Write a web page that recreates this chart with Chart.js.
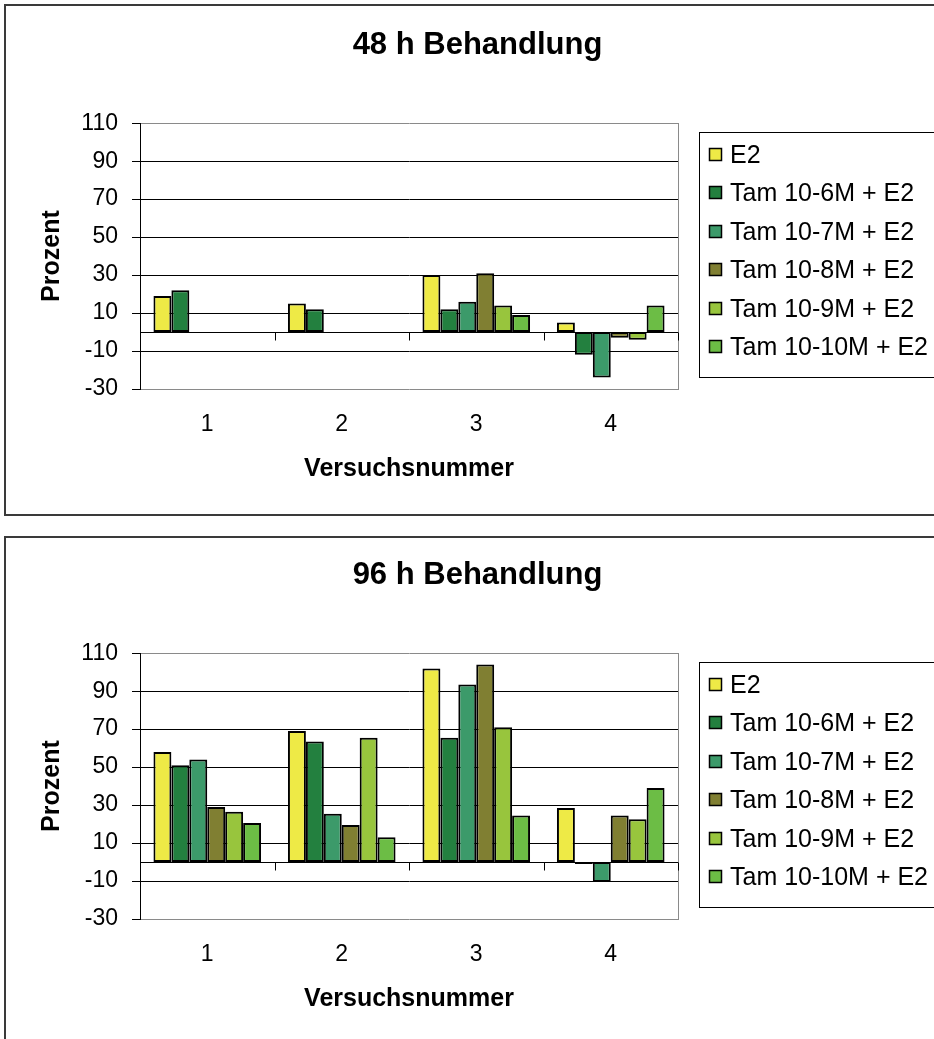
<!DOCTYPE html>
<html lang="de">
<head>
<meta charset="utf-8">
<title>Behandlung 48 h / 96 h</title>
<script src="https://cdn.jsdelivr.net/npm/chart.js@4/dist/chart.umd.min.js"></script>
<style>
  html, body { margin: 0; padding: 0; background: #fff; }
  body { width: 934px; height: 1039px; overflow: hidden; position: relative; }
  canvas { position: absolute; left: 0; }
  #c48 { top: 0; }
  #c96 { top: 530px; }
</style>
</head>
<body>
<canvas id="c48" width="955" height="530"></canvas>
<canvas id="c96" width="955" height="530"></canvas>
<script>
// Versuchsnummern (x categories) and series names
const categories = ['1', '2', '3', '4'];
const seriesNames = ['E2', 'Tam 10-6M + E2', 'Tam 10-7M + E2', 'Tam 10-8M + E2', 'Tam 10-9M + E2', 'Tam 10-10M + E2'];
const seriesColors = ['#EEEA46', '#23803F', '#3C9A6A', '#807F32', '#98C53D', '#6CBD45'];

// y-axis tick values (Prozent)
const yTicks = [-30, -10, 10, 30, 50, 70, 90, 110];

// 48 h Behandlung
const e2_48    = [19, 15, 30, 5];
const tam6_48  = [22, 12, 12, -12];
const tam7_48  = [null, null, 16, -24];
const tam8_48  = [null, null, 31, -3];
const tam9_48  = [null, null, 14, -4];
const tam10_48 = [null, null, 9, 14];

// 96 h Behandlung
const e2_96    = [58, 69, 102, 28.5];
const tam6_96  = [51, 63.5, 65.5, -1];
const tam7_96  = [54, 25.5, 93.5, -10.5];
const tam8_96  = [29, 19.5, 104, 24.5];
const tam9_96  = [26.5, 65.5, 71, 22.5];
const tam10_96 = [20.5, 13, 24.5, 39];

const FONT = "'Liberation Sans', Arial, sans-serif";
const CANVAS_W = 955, CANVAS_H = 530;
const AREA = { left: 140, right: 678, top: 123, bottom: 389 };
const TITLE_SIZE = 31;

// Outer frame, zero line with category tick marks, and boxed legend
const decorations = {
  id: 'decorations',
  beforeDraw(chart, args, opts) {
    const ctx = chart.ctx;
    ctx.save();
    ctx.fillStyle = '#fff';
    ctx.fillRect(0, 0, chart.width, chart.height);
    ctx.strokeStyle = '#3a3a3a';
    ctx.lineWidth = 2;
    ctx.strokeRect(5, opts.frameTop, chart.width - 8, opts.frameBottom - opts.frameTop);
    ctx.restore();
  },
  afterDatasetsDraw(chart) {
    const ctx = chart.ctx;
    const x = chart.scales.x, y = chart.scales.y;
    const y0 = Math.round(y.getPixelForValue(0)) + 0.5;
    ctx.save();
    ctx.strokeStyle = '#000';
    ctx.lineWidth = 1;
    ctx.beginPath();
    ctx.moveTo(chart.chartArea.left, y0);
    ctx.lineTo(chart.chartArea.right, y0);
    const n = x.ticks.length;
    const half = (x.getPixelForTick(1) - x.getPixelForTick(0)) / 2;
    for (let i = 0; i <= n; i++) {
      const px = Math.round(i < n ? x.getPixelForTick(i) - half : x.getPixelForTick(n - 1) + half) + 0.5;
      ctx.moveTo(px, y0);
      ctx.lineTo(px, y0 + 8);
    }
    ctx.stroke();
    ctx.restore();
  },
  afterDraw(chart) {
    const ctx = chart.ctx;
    const lx = 699, ly = 132, lw = 300, lh = 245;
    ctx.save();
    ctx.strokeStyle = '#000';
    ctx.lineWidth = 1;
    ctx.strokeRect(lx + 0.5, ly + 0.5, lw, lh);
    ctx.font = '25px ' + FONT;
    ctx.textBaseline = 'middle';
    ctx.textAlign = 'left';
    chart.data.datasets.forEach((ds, i) => {
      const cy = Math.round(ly + 23 + i * 38.4);
      ctx.fillStyle = ds.backgroundColor;
      ctx.fillRect(709.5, cy - 6.5, 12, 12);
      ctx.strokeStyle = '#000';
      ctx.lineWidth = 1.5;
      ctx.strokeRect(709.5, cy - 6.5, 12, 12);
      ctx.fillStyle = '#000';
      ctx.fillText(ds.label, 730, cy + 1);
    });
    ctx.restore();
  }
};

function makeChart(canvasId, title, seriesValues, frameTop, frameBottom) {
  const datasets = seriesValues.map((vals, i) => ({
    label: seriesNames[i],
    data: vals,
    backgroundColor: seriesColors[i],
    borderColor: '#000',
    borderWidth: 2,
    borderSkipped: false,
    categoryPercentage: 0.8,
    barPercentage: 1.0
  }));

  const titleLine = Math.round(TITLE_SIZE * 1.2);

  return new Chart(document.getElementById(canvasId), {
    type: 'bar',
    data: { labels: categories, datasets },
    plugins: [decorations],
    options: {
      responsive: false,
      devicePixelRatio: 1,
      animation: false,
      layout: { padding: 0 },
      plugins: {
        legend: { display: false },
        tooltip: { enabled: false },
        title: {
          display: true,
          text: title,
          color: '#000',
          font: { family: FONT, size: TITLE_SIZE, weight: 'bold', lineHeight: 1.2 },
          padding: { top: 27, bottom: AREA.top - 27 - titleLine }
        },
        decorations: { frameTop, frameBottom }
      },
      scales: {
        x: {
          type: 'category',
          position: 'bottom',
          grid: { display: false, drawTicks: false },
          border: { display: false },
          ticks: {
            color: '#000',
            font: { family: FONT, size: 23 },
            padding: 22,
            maxRotation: 0
          },
          title: {
            display: true,
            text: 'Versuchsnummer',
            color: '#000',
            font: { family: FONT, size: 25, weight: 'bold', lineHeight: 1.2 },
            padding: { top: 4, bottom: 46 }
          },
          afterFit(s) { s.height = CANVAS_H - AREA.bottom; }
        },
        y: {
          position: 'left',
          min: yTicks[0],
          max: yTicks[yTicks.length - 1],
          afterBuildTicks(s) { s.ticks = yTicks.map(v => ({ value: v })); },
          grid: {
            color: (c) => (c.tick && (c.tick.value === yTicks[0] || c.tick.value === yTicks[yTicks.length - 1])) ? '#8a8a8a' : '#000',
            lineWidth: 1,
            drawTicks: true,
            tickLength: 8,
            tickColor: '#000'
          },
          border: { display: true, color: '#000', width: 1 },
          ticks: {
            color: '#000',
            font: { family: FONT, size: 23 },
            padding: 14
          },
          title: {
            display: true,
            text: 'Prozent',
            color: '#000',
            font: { family: FONT, size: 25, weight: 'bold', lineHeight: 1.2 },
            padding: { top: 37, bottom: 4 }
          },
          afterFit(s) { s.width = AREA.left; }
        },
        frameRight: {
          position: 'right',
          display: true,
          grid: { display: false, drawTicks: false },
          ticks: { display: false },
          border: { display: true, color: '#8a8a8a', width: 1 },
          afterFit(s) { s.width = CANVAS_W - AREA.right; }
        }
      }
    }
  });
}

makeChart('c48', '48 h Behandlung',
  [e2_48, tam6_48, tam7_48, tam8_48, tam9_48, tam10_48], 5, 515);
makeChart('c96', '96 h Behandlung',
  [e2_96, tam6_96, tam7_96, tam8_96, tam9_96, tam10_96], 7, 600);
</script>
</body>
</html>
